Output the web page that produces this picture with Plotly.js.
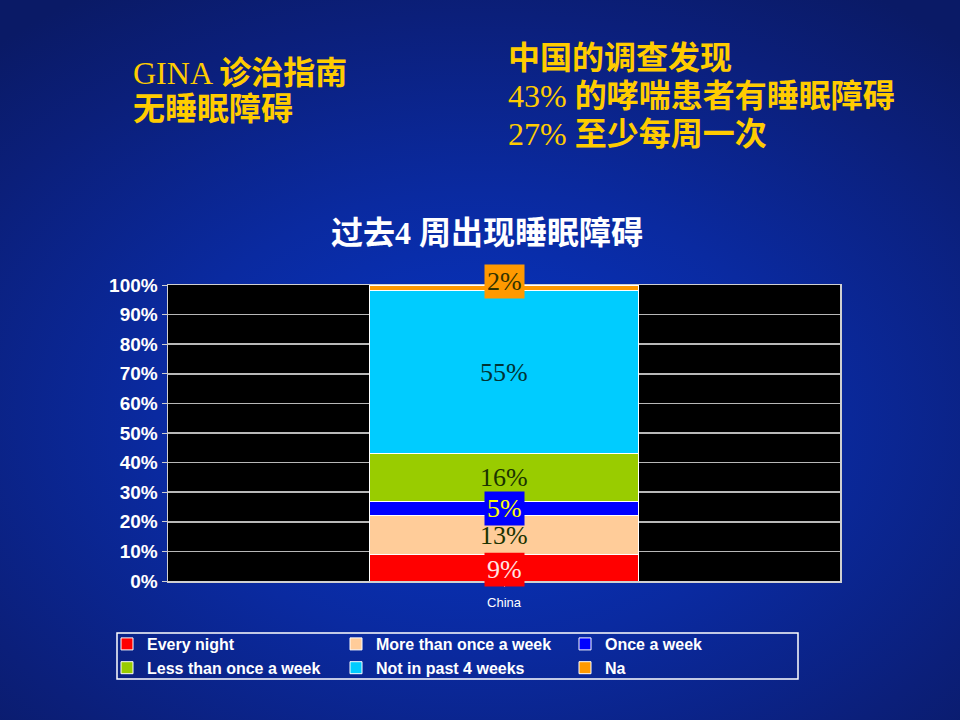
<!DOCTYPE html>
<html>
<head>
<meta charset="utf-8">
<script src="https://cdn.plot.ly/plotly-3.0.1.min.js"></script>
<style>
  html, body { margin:0; padding:0; width:960px; height:720px; overflow:hidden; }
  #bg { position:absolute; left:0; top:0; width:960px; height:720px;
        background: radial-gradient(ellipse 75% 70% at 50% 58%, #0636c8 0%, #0a2aa0 45%, #0b1f7a 80%, #0a1a66 100%); }
  #chart { position:absolute; left:0; top:0; width:960px; height:720px; }
</style>
</head>
<body>
<div id="bg"></div>
<div id="chart"></div>
<script>
// ---- data ----
const categories = ["China"];
const seriesNames = ["Every night", "More than once a week", "Once a week",
                     "Less than once a week", "Not in past 4 weeks", "Na"];
const everyNight = [9];
const moreThanOnceAWeek = [13];
const onceAWeek = [5];
const lessThanOnceAWeek = [16];
const notInPast4Weeks = [55];
const na = [2];
const yTickVals = [0, 10, 20, 30, 40, 50, 60, 70, 80, 90, 100];
const yTickText = ["0%", "10%", "20%", "30%", "40%", "50%", "60%", "70%", "80%", "90%", "100%"];

// ---- styles ----
const seriesColors = ["#ff0000", "#ffcc99", "#0000ff", "#99cc00", "#00ccff", "#ff9900"];
const labelColors = ["#ffe6e6", "#1a3300", "#ffff00", "#1a3300", "#003333", "#333300"];
const labelYShift = [-2, 0, 0, 0, 0, 6];
const labelDrawOrder = [0, 1, 3, 4, 2, 5];

const seriesValues = [everyNight, moreThanOnceAWeek, onceAWeek, lessThanOnceAWeek, notInPast4Weeks, na];

const traces = seriesValues.map((vals, i) => ({
  type: "bar",
  name: seriesNames[i],
  x: categories,
  y: vals,
  width: 0.4,
  marker: { color: seriesColors[i], line: { color: "#ffffff", width: 1 } },
  hoverinfo: "skip"
}));

// cumulative midpoints for labels
const cum = [];
let run = 0;
seriesValues.forEach(v => { cum.push(run + v[0] / 2); run += v[0]; });

const labelFont = "Liberation Serif, Noto Sans CJK SC, serif";
const annotations = labelDrawOrder.map(i => ({
  x: categories[0], y: cum[i], xref: "x", yref: "y",
  yshift: labelYShift[i],
  text: seriesValues[i][0] + "%",
  showarrow: false,
  font: { family: labelFont, size: 26, color: labelColors[i] },
  bgcolor: seriesColors[i],
  borderpad: 2
}));

// top texts
const yellow = "#ffcc00";
const topFont = "Liberation Serif, Noto Sans CJK SC, serif";
function px2x(px) { return (px - 168) / 672; }
function py2y(py) { return (581 - py) / 296; }
const topLines = [
  { t: "GINA <b>诊治指南</b>", x: 131, y: 73 },
  { t: "<b>无睡眠障碍</b>", x: 131, y: 109 },
  { t: "<b>中国的调查发现</b>", x: 506, y: 58 },
  { t: "43% <b>的哮喘患者有睡眠障碍</b>", x: 506, y: 96 },
  { t: "27% <b>至少每周一次</b>", x: 506, y: 134 }
];
topLines.forEach(l => annotations.push({
  x: px2x(l.x), y: py2y(l.y), xref: "paper", yref: "paper",
  xanchor: "left", yanchor: "middle", showarrow: false,
  text: l.t,
  font: { family: topFont, size: 32, color: yellow }
}));

const layout = {
  width: 960, height: 720,
  paper_bgcolor: "rgba(0,0,0,0)",
  plot_bgcolor: "#000000",
  margin: { l: 168, r: 120, t: 285, b: 139, pad: 0 },
  barmode: "stack",
  showlegend: true,
  title: {
    text: "<b>过去4 周出现睡眠障碍</b>",
    xref: "container", yref: "container",
    x: 487 / 960, y: 1 - 233 / 720, xanchor: "center", yanchor: "middle",
    font: { family: "Liberation Serif, Noto Sans CJK SC, serif", size: 32, color: "#ffffff" }
  },
  xaxis: {
    type: "category",
    showline: true, mirror: true, linecolor: "#d0d0d0", linewidth: 1.5,
    ticks: "outside", ticklen: 4, tickcolor: "#d0d0d0",
    tickfont: { family: "Liberation Sans, Arial, sans-serif", size: 13, color: "#ffffff" },
    ticklabelstandoff: 5,
    showgrid: false, zeroline: false, fixedrange: true
  },
  yaxis: {
    range: [0, 100],
    tickvals: yTickVals, ticktext: yTickText,
    showline: true, mirror: true, linecolor: "#d0d0d0", linewidth: 1.5,
    ticks: "outside", ticklen: 5, tickcolor: "#d0d0d0",
    tickfont: { family: "Liberation Sans, Arial, sans-serif", size: 19, color: "#ffffff", weight: "bold" },
    showgrid: true, gridcolor: "#b8b8b8", gridwidth: 1.5,
    zeroline: false, fixedrange: true
  },
  legend: {
    orientation: "h",
    x: px2x(107), y: py2y(627),
    xanchor: "left", yanchor: "top",
    traceorder: "normal",
    entrywidth: 184, entrywidthmode: "pixels",
    bgcolor: "rgba(0,0,0,0)",
    borderwidth: 0,
    itemwidth: 30,
    font: { family: "Liberation Sans, Arial, sans-serif", size: 16, color: "#ffffff", weight: "bold" }
  },
  shapes: [{
    type: "rect", xref: "paper", yref: "paper",
    x0: px2x(117), x1: px2x(798), y0: py2y(633), y1: py2y(679),
    line: { color: "#ffffff", width: 1.5 }, fillcolor: "rgba(0,0,0,0)", layer: "above"
  }],
  annotations: annotations
};

Plotly.newPlot("chart", traces, layout, { staticPlot: true, displayModeBar: false });
</script>
</body>
</html>
